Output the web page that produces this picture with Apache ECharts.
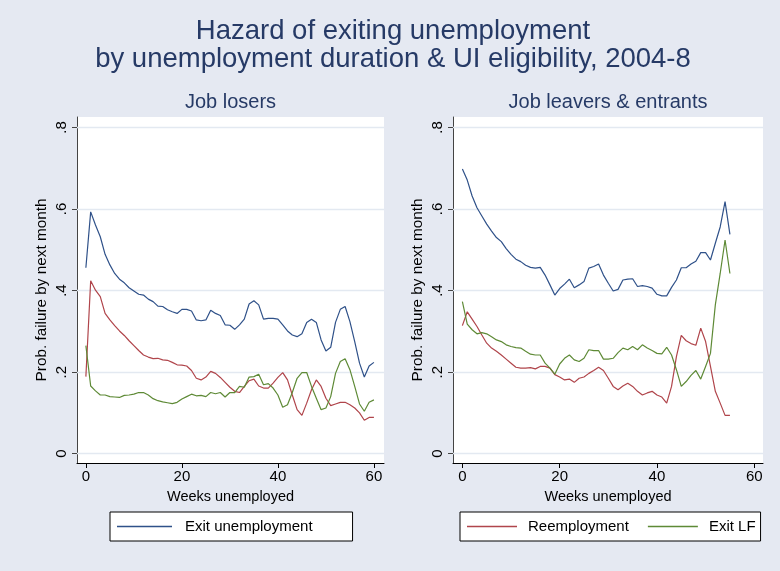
<!DOCTYPE html>
<html>
<head>
<meta charset="utf-8">
<script src="https://cdn.jsdelivr.net/npm/echarts@6/dist/echarts.min.js"></script>
<style>
  html, body { margin: 0; padding: 0; background: #ffffff; }
  #chart { width: 780px; height: 571px; }
</style>
</head>
<body>
<div id="chart"></div>
<script>
// Weeks of unemployment, job losers panel
const weeksLosers = [0,1,2,3,4,5,6,7,8,9,10,11,12,13,14,15,16,17,18,19,20,
  21,22,23,24,25,26,27,28,29,30,31,32,33,34,35,36,37,38,39,40,
  41,42,43,44,45,46,47,48,49,50,51,52,53,54,55,56,57,58,59,60];
// Job losers: hazard of exit, reemployment, leaving the labour force
const losersExit = [0.456,0.593,0.561,0.532,0.489,0.463,0.442,0.428,0.419,0.407,
  0.399,0.391,0.389,0.379,0.373,0.362,0.361,0.353,0.348,0.344,
  0.354,0.354,0.350,0.328,0.326,0.328,0.352,0.344,0.339,0.316,
  0.315,0.305,0.316,0.330,0.367,0.375,0.365,0.330,0.332,0.332,
  0.330,0.316,0.301,0.291,0.287,0.294,0.322,0.330,0.322,0.279,
  0.252,0.261,0.322,0.354,0.361,0.324,0.275,0.222,0.188,0.215,0.224];
const losersReemp = [0.189,0.424,0.401,0.385,0.344,0.328,0.314,0.301,0.290,0.277,
  0.265,0.253,0.242,0.237,0.233,0.234,0.230,0.229,0.224,0.218,
  0.217,0.215,0.204,0.185,0.181,0.188,0.202,0.197,0.187,0.175,
  0.163,0.153,0.150,0.165,0.179,0.183,0.166,0.161,0.161,0.173,
  0.187,0.199,0.181,0.144,0.108,0.094,0.124,0.157,0.181,0.165,
  0.136,0.118,0.122,0.126,0.126,0.120,0.112,0.100,0.082,0.089,0.089];
const losersExitLF = [0.265,0.166,0.154,0.144,0.144,0.140,0.139,0.138,0.143,0.144,
  0.146,0.150,0.150,0.144,0.135,0.130,0.127,0.125,0.123,0.126,
  0.134,0.140,0.146,0.142,0.143,0.140,0.150,0.147,0.150,0.139,
  0.150,0.150,0.165,0.163,0.188,0.189,0.195,0.169,0.172,0.161,
  0.144,0.114,0.120,0.150,0.185,0.199,0.199,0.165,0.136,0.108,
  0.112,0.140,0.197,0.226,0.233,0.206,0.165,0.122,0.104,0.126,0.132];

// Weeks of unemployment, job leavers & entrants panel
const weeksLeavers = [0,1,2,3,4,5,6,7,8,9,10,11,12,13,14,15,16,17,18,19,20,
  21,22,23,24,25,26,27,28,29,30,31,32,33,34,35,36,37,38,39,40,
  41,42,43,44,45,46,47,48,49,50,51,52,53,54,55];
const leaversExit = [0.698,0.671,0.632,0.603,0.583,0.563,0.546,0.530,0.520,0.503,
  0.489,0.477,0.471,0.462,0.457,0.455,0.457,0.438,0.414,0.389,
  0.405,0.416,0.428,0.407,0.414,0.422,0.455,0.459,0.465,0.438,
  0.418,0.399,0.403,0.426,0.428,0.429,0.410,0.412,0.410,0.406,
  0.391,0.387,0.387,0.408,0.426,0.456,0.456,0.465,0.472,0.493,
  0.493,0.475,0.516,0.556,0.618,0.538];
const leaversReemp = [0.314,0.348,0.330,0.312,0.291,0.271,0.259,0.251,0.242,0.232,
  0.222,0.212,0.210,0.210,0.211,0.208,0.214,0.214,0.210,0.194,
  0.188,0.181,0.183,0.175,0.185,0.188,0.197,0.204,0.212,0.204,
  0.185,0.165,0.157,0.166,0.173,0.165,0.153,0.144,0.149,0.153,
  0.144,0.139,0.124,0.165,0.238,0.290,0.277,0.270,0.266,0.308,
  0.275,0.214,0.153,0.124,0.094,0.094];
const leaversExitLF = [0.373,0.318,0.304,0.294,0.297,0.294,0.287,0.279,0.275,0.267,
  0.263,0.260,0.259,0.251,0.244,0.242,0.242,0.222,0.210,0.195,
  0.220,0.234,0.242,0.230,0.226,0.234,0.255,0.253,0.253,0.232,
  0.232,0.234,0.248,0.259,0.255,0.263,0.255,0.267,0.259,0.253,
  0.246,0.245,0.261,0.242,0.206,0.165,0.177,0.192,0.204,0.183,
  0.214,0.246,0.365,0.442,0.524,0.442];

// Axis ticks and their printed labels
const xTicks = [0, 20, 40, 60];
const yTicks = [0, 0.2, 0.4, 0.6, 0.8];
const yTickLabels = ['0', '.2', '.4', '.6', '.8'];

const panelTitles = ['Job losers', 'Job leavers & entrants'];
const mainTitle = ['Hazard of exiting unemployment', 'by unemployment duration & UI eligibility, 2004-8'];
const seriesNames = ['Exit unemployment', 'Reemployment', 'Exit LF'];

const FONT = '"Liberation Sans", Arial, Helvetica, sans-serif';
const COLORS = ['#2f5189', '#b0454b', '#5e8a36'];
const GRIDLINE = '#e3e9f1';
const TITLE_COLOR = '#263a66';

function pairs(xs, ys) { return xs.map((x, i) => [x, ys[i]]); }
function yLabel(v) {
  const i = yTicks.findIndex(t => Math.abs(t - v) < 1e-6);
  return i >= 0 ? yTickLabels[i] : '';
}

// Plot rectangles and axis extents of the two panels
const panels = [
  { left: 77, top: 117, width: 307, height: 346, xMin: -1.85, xMax: 62.1 },
  { left: 453, top: 117, width: 310, height: 346, xMin: -1.93, xMax: 61.8 }
];
const yMin = -0.0228, yMax = 0.8257;

const grids = panels.map(p => ({
  left: p.left, top: p.top, width: p.width, height: p.height,
  show: true, backgroundColor: '#ffffff', borderWidth: 0, containLabel: false
}));

const xAxes = panels.map((p, i) => ({
  type: 'value', gridIndex: i, min: p.xMin, max: p.xMax,
  axisLine: { show: true, onZero: false, lineStyle: { color: '#000', width: 1 } },
  axisTick: { show: true, customValues: xTicks, length: 5, lineStyle: { color: '#000' } },
  axisLabel: { show: true, customValues: xTicks, fontSize: 15, color: '#000', margin: 6, fontFamily: FONT },
  splitLine: { show: false },
  name: 'Weeks unemployed', nameLocation: 'middle', nameGap: 26,
  nameTextStyle: { fontSize: 14.5, color: '#000', fontFamily: FONT }
}));

const yAxes = panels.map((p, i) => ({
  type: 'value', gridIndex: i, min: yMin, max: yMax,
  axisLine: { show: true, onZero: false, lineStyle: { color: '#444', width: 1 } },
  axisTick: { show: true, customValues: yTicks, length: 5, lineStyle: { color: '#444' } },
  axisLabel: { show: true, customValues: yTicks, rotate: 90, fontSize: 15, color: '#000', margin: 8,
    fontFamily: FONT, formatter: yLabel },
  splitLine: { show: false },
  name: 'Prob. failure by next month', nameLocation: 'middle', nameGap: 28,
  nameTextStyle: { fontSize: 15.3, color: '#000', fontFamily: FONT }
}));

const panelData = [
  { weeks: weeksLosers, values: [losersExit, losersReemp, losersExitLF] },
  { weeks: weeksLeavers, values: [leaversExit, leaversReemp, leaversExitLF] }
];

const series = [];
panelData.forEach((pd, gi) => {
  pd.values.forEach((vals, si) => {
    const s = {
      type: 'line', name: seriesNames[si], xAxisIndex: gi, yAxisIndex: gi,
      data: pairs(pd.weeks, vals), symbol: 'none', showSymbol: false,
      lineStyle: { width: 1.2, color: COLORS[si] }, itemStyle: { color: COLORS[si] },
      z: 3, animation: false
    };
    if (si === 0) {
      // horizontal grid lines at the y ticks
      s.markLine = {
        silent: true, symbol: 'none', z: 1, animation: false,
        label: { show: false },
        lineStyle: { color: GRIDLINE, type: 'solid', width: 1.3 },
        data: yTicks.map(v => ({ yAxis: v }))
      };
    }
    series.push(s);
  });
});

const graphics = [
  { type: 'text', x: 393, y: 31, z: 10, style: { text: mainTitle[0], align: 'center', verticalAlign: 'middle',
      font: '27.5px ' + FONT, fill: TITLE_COLOR } },
  { type: 'text', x: 393, y: 59, z: 10, style: { text: mainTitle[1], align: 'center', verticalAlign: 'middle',
      font: '27.5px ' + FONT, fill: TITLE_COLOR } },
  { type: 'text', x: panels[0].left + panels[0].width / 2, y: 102, z: 10,
    style: { text: panelTitles[0], align: 'center', verticalAlign: 'middle', font: '20px ' + FONT, fill: TITLE_COLOR } },
  { type: 'text', x: panels[1].left + panels[1].width / 2, y: 102, z: 10,
    style: { text: panelTitles[1], align: 'center', verticalAlign: 'middle', font: '20px ' + FONT, fill: TITLE_COLOR } }
];

const legendCommon = {
  orient: 'horizontal', top: 512, backgroundColor: '#ffffff', borderColor: '#000', borderWidth: 1,
  borderRadius: 0, itemHeight: 1.5, icon: 'rect',
  textStyle: { fontSize: 15, color: '#000', fontFamily: FONT }, selectedMode: false
};

const option = {
  animation: false,
  backgroundColor: '#e5e9f2',
  grid: grids,
  xAxis: xAxes,
  yAxis: yAxes,
  series: series,
  graphic: graphics,
  legend: [
    Object.assign({}, legendCommon, {
      data: [seriesNames[0]], left: 110, padding: [7, 40, 7, 7], itemWidth: 55,
      textStyle: Object.assign({}, legendCommon.textStyle, { padding: [0, 0, 0, 8] })
    }),
    Object.assign({}, legendCommon, {
      data: [seriesNames[1], seriesNames[2]], left: 460, padding: [7, 5, 7, 7], itemWidth: 50, itemGap: 19,
      textStyle: Object.assign({}, legendCommon.textStyle, { padding: [0, 0, 0, 6] })
    })
  ]
};

const chart = echarts.init(document.getElementById('chart'), null, { renderer: 'canvas' });
chart.setOption(option);
</script>
</body>
</html>
